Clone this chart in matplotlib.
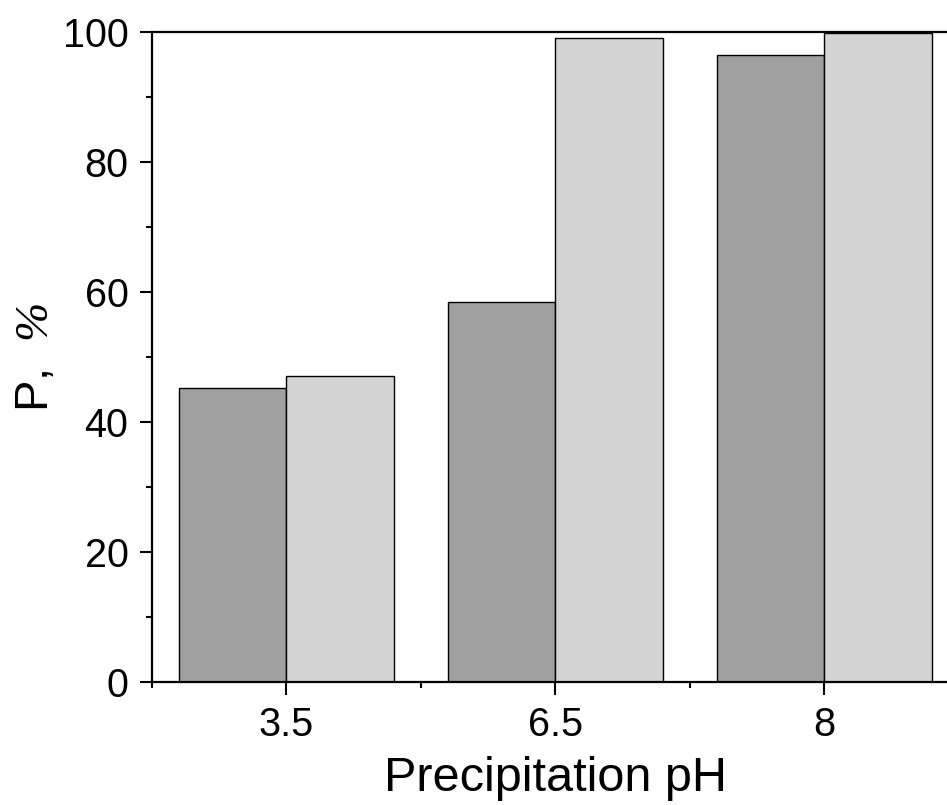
import matplotlib
matplotlib.use("Agg")
import matplotlib.pyplot as plt
from matplotlib.ticker import MultipleLocator, FixedLocator

categories = ["3.5", "6.5", "8"]
series_dark = [45.2, 58.4, 96.4]
series_light = [47.1, 99.1, 99.9]

plt.rcParams['font.family'] = ['Liberation Sans', 'DejaVu Sans']
plt.rcParams['mathtext.fontset'] = 'custom'
plt.rcParams['mathtext.rm'] = 'Liberation Serif:italic'
plt.rcParams['mathtext.it'] = 'Liberation Serif:italic'

fig = plt.figure(figsize=(9.47, 8.05), dpi=100)
ax = fig.add_axes([152/947, 123/805, (958.5-152)/947, 650/805])

x = [1, 2, 3]
w = 0.4
ax.bar([xi - w/2 for xi in x], series_dark, width=w, color='#a0a0a0', edgecolor='black', linewidth=1.0, zorder=2)
ax.bar([xi + w/2 for xi in x], series_light, width=w, color='#d3d3d3', edgecolor='black', linewidth=1.0, zorder=2)

ax.set_xlim(0.5, 3.5)
ax.set_ylim(0, 100)
ax.set_xticks(x)
ax.set_xticklabels(categories)
ax.xaxis.set_minor_locator(FixedLocator([0.5, 1.5, 2.5]))
ax.yaxis.set_major_locator(MultipleLocator(20))
ax.yaxis.set_minor_locator(MultipleLocator(10))

for s in ['left', 'bottom', 'top']:
    ax.spines[s].set_linewidth(1.6)
    ax.spines[s].set_zorder(3)
ax.spines['right'].set_visible(False)

ax.tick_params(axis='both', which='major', direction='out', length=9, width=1.5, labelsize=28.5, pad=8)
ax.tick_params(axis='both', which='minor', direction='out', length=4.5, width=1.5)
ax.tick_params(top=False, right=False, which='both')

ax.set_xlabel("Precipitation pH", fontsize=35, labelpad=9)
ax.set_ylabel(r"P,  $\%$", fontsize=34)
ax.yaxis.set_label_coords(-0.117, 0.50)

fig.savefig("out.png", dpi=100)
